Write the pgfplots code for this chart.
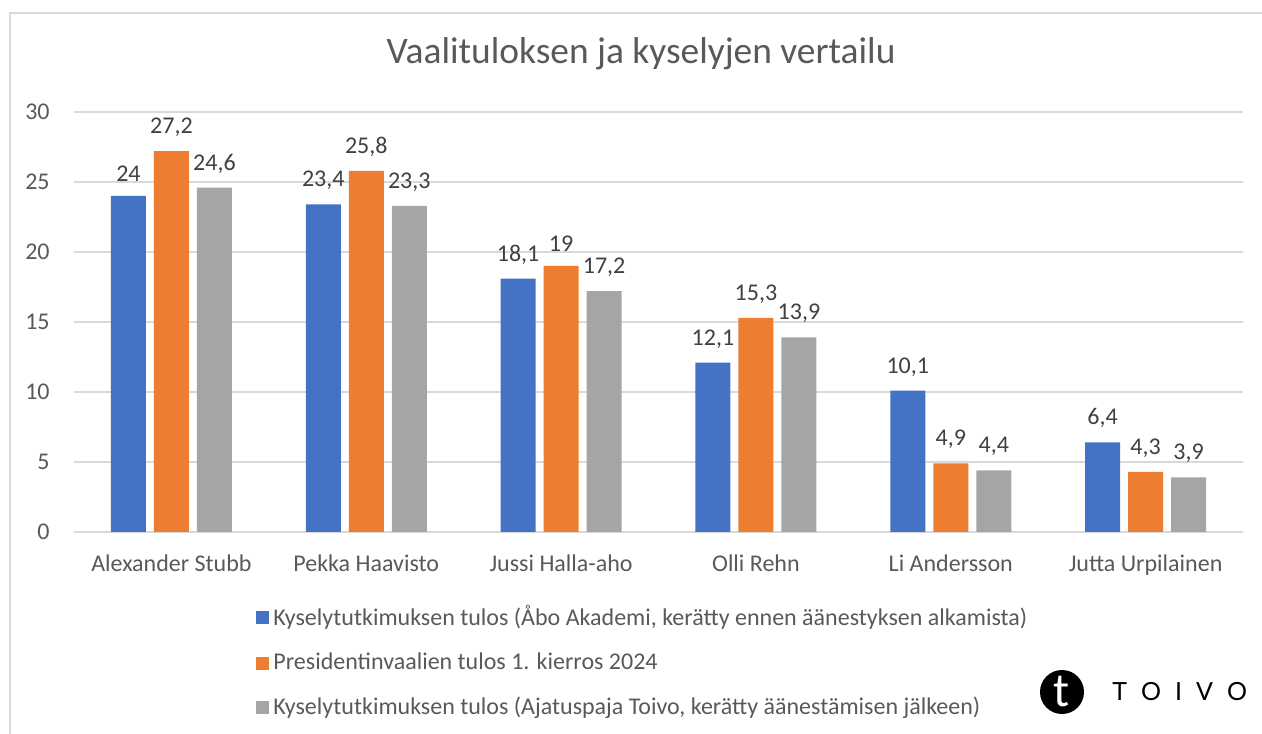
\documentclass[border=0pt]{standalone}
\usepackage{fontspec}
\setmainfont{Carlito}
\newfontfamily\logofont{Lato}
\usepackage{pgfplots}
\pgfplotsset{compat=1.18}
\definecolor{cblue}{HTML}{4472C4}
\definecolor{corange}{HTML}{ED7D31}
\definecolor{cgray}{HTML}{A5A5A5}
\definecolor{txt}{HTML}{595959}
\definecolor{lbl}{HTML}{404040}
\definecolor{gridc}{HTML}{D9D9D9}
\begin{document}
\fontsize{12}{14}\selectfont
\begin{tikzpicture}
\useasboundingbox (0,0) rectangle (631pt,366.5pt);
\draw[color=gridc, line width=0.6pt] (5pt,-5pt) -- (5pt,360pt) -- (640pt,360pt);
\node[anchor=base, text=txt, font=\fontsize{18.7}{21}\selectfont, inner sep=0pt] at (320.5pt,334.5pt) {Vaalituloksen ja kyselyjen vertailu};
\begin{axis}[
  at={(37pt,100.5pt)}, anchor=south west,
  scale only axis, width=584.5pt, height=210pt,
  ybar=4pt, bar width=17.5pt,
  xmin=-0.5, xmax=5.5, ymin=0, ymax=30,
  xtick=data,
  xticklabels={Alexander Stubb,Pekka Haavisto,Jussi Halla-aho,Olli Rehn,Li Andersson,Jutta Urpilainen},
  ytick={0,5,10,15,20,25,30},
  axis line style={draw=none},
  major tick length=0pt,
  ymajorgrids, grid style={gridc, line width=0.75pt},
  tick label style={text=txt, font=\fontsize{12}{14}\selectfont},
  yticklabel style={xshift=-8pt},
  xticklabel style={yshift=-7pt},
  /pgf/number format/.cd, use comma, assume math mode=true, /pgfplots/.cd,
  nodes near coords,
  every node near coord/.append style={text=lbl, font=\fontsize{12}{14}\selectfont, yshift=3pt},
  legend style={at={(axis description cs:0.1506,-0.155)}, anchor=north west, draw=none, fill=none,
    font=\fontsize{12}{14}\selectfont, text=txt, row sep=7.8pt},
  legend cell align=left,
  legend image code/.code={\fill[#1] (0pt,-3.25pt) rectangle (6.5pt,3.25pt);},
]
\addplot[fill=cblue, draw=none] coordinates {(0,24) (1,23.4) (2,18.1) (3,12.1) (4,10.1) (5,6.4)};
\addplot[fill=corange, draw=none] coordinates {(0,27.2) (1,25.8) (2,19) (3,15.3) (4,4.9) (5,4.3)};
\addplot[fill=cgray, draw=none] coordinates {(0,24.6) (1,23.3) (2,17.2) (3,13.9) (4,4.4) (5,3.9)};
\legend{{Kyselytutkimuksen tulos (Åbo Akademi, kerätty ennen äänestyksen alkamista)},
{Presidentinvaalien tulos 1. kierros 2024},
{Kyselytutkimuksen tulos (Ajatuspaja Toivo, kerätty äänestämisen jälkeen)}}
\end{axis}
\fill[black] (531pt,20.5pt) circle (11pt);
\node[text=white, font=\fontsize{24}{26}\selectfont, inner sep=0pt] at (531pt,21pt) {t};
\node[anchor=west, inner sep=0pt, font=\logofont\fontsize{12.5}{14}\selectfont] at (556pt,20.5pt) {T\hspace{7pt}O\hspace{7pt}I\hspace{7pt}V\hspace{7pt}O};
\end{tikzpicture}
\end{document}
